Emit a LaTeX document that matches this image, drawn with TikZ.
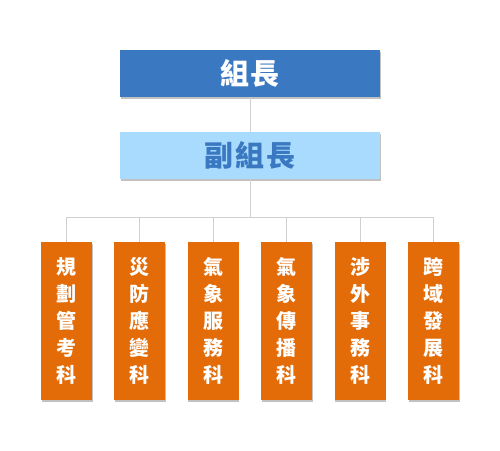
\documentclass[tikz,border=0pt]{standalone}
\usepackage{fontspec}
\newfontfamily\cjk{Noto Sans CJK TC}
\usetikzlibrary{shadows}
\definecolor{topblue}{HTML}{3A78C1}
\definecolor{lightblue}{HTML}{A8DBFD}
\definecolor{orangebox}{HTML}{E36C09}
\definecolor{linegray}{HTML}{D0D0D0}
\tikzset{
  boxshadow/.style={drop shadow={shadow xshift=0.6pt, shadow yshift=-1.8pt, opacity=0.35, fill=black!70}},
  headbox/.style={boxshadow, fill=topblue, minimum width=260pt, minimum height=47pt, inner sep=0pt, text=white, font=\cjk\bfseries\fontsize{29}{32}\selectfont},
  deputybox/.style={boxshadow, fill=lightblue, minimum width=260pt, minimum height=47pt, inner sep=0pt, text=topblue, font=\cjk\bfseries\fontsize{29}{32}\selectfont},
  sectbox/.style={boxshadow, fill=orangebox, minimum width=51pt, minimum height=158pt, inner sep=0pt, text=white, align=center, font=\cjk\bfseries\fontsize{20}{27}\selectfont},
  conn/.style={draw=linegray, line width=0.9pt}
}
\begin{document}
\begin{tikzpicture}[x=1pt,y=-1pt]
\useasboundingbox (0,0) rectangle (500,450);
\node[headbox] (head) at (250,73.5) {組\kern2pt 長};
\node[deputybox] (deputy) at (250,155.5) {副\kern2pt 組\kern2pt 長};
\node[sectbox] (s1) at (66.5,321) {規\\劃\\管\\考\\科};
\node[sectbox] (s2) at (139.8,321) {災\\防\\應\\變\\科};
\node[sectbox] (s3) at (213.2,321) {氣\\象\\服\\務\\科};
\node[sectbox] (s4) at (286.6,321) {氣\\象\\傳\\播\\科};
\node[sectbox] (s5) at (360,321) {涉\\外\\事\\務\\科};
\node[sectbox] (s6) at (433.4,321) {跨\\域\\發\\展\\科};
\coordinate (bus) at (250,217.3);
\draw[conn] (head.south) -- (deputy.north);
\draw[conn] (deputy.south) -- (bus);
\draw[conn] (s1.north) -- (s1.north |- bus) -- (s6.north |- bus) -- (s6.north);
\foreach \i in {2,3,4,5} \draw[conn] (s\i.north) -- (s\i.north |- bus);
\end{tikzpicture}
\end{document}
